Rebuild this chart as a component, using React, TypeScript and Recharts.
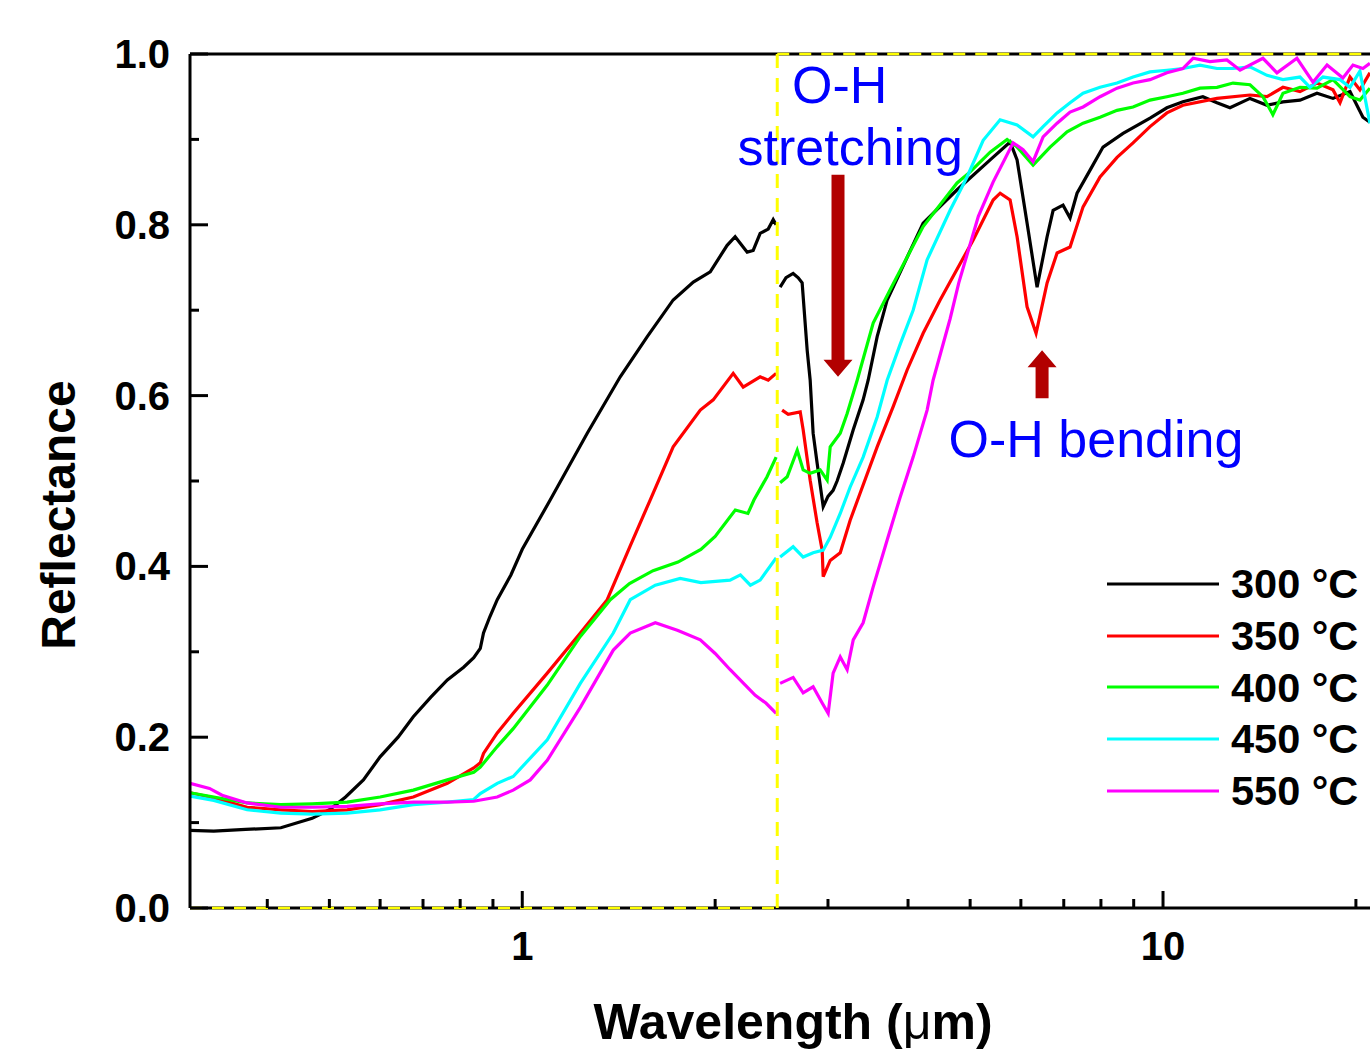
import React from "react";
import { LineChart, Line, XAxis, YAxis, ReferenceLine, ReferenceDot } from "recharts";

const FONT = '"Liberation Sans", Arial, Helvetica, sans-serif';

// wavelength (um), reflectance -- UV-Vis-NIR part (< 2.5 um)
const uv300 = [
  [0.303, 0.091], [0.33, 0.09], [0.37, 0.092], [0.42, 0.094], [0.47, 0.105], [0.5, 0.115],
  [0.53, 0.13], [0.565, 0.15], [0.6, 0.177], [0.64, 0.2], [0.676, 0.224], [0.72, 0.247],
  [0.764, 0.267], [0.81, 0.282], [0.84, 0.293], [0.86, 0.304], [0.87, 0.322], [0.89, 0.341],
  [0.914, 0.361], [0.96, 0.39], [1.0, 0.42], [1.106, 0.478], [1.263, 0.556], [1.422, 0.622],
  [1.567, 0.669], [1.72, 0.712], [1.849, 0.733], [1.965, 0.745], [2.088, 0.776], [2.149, 0.786],
  [2.244, 0.768], [2.293, 0.77], [2.351, 0.79], [2.42, 0.795], [2.464, 0.806], [2.49, 0.8],
];
const uv350 = [
  [0.303, 0.135], [0.33, 0.129], [0.372, 0.118], [0.42, 0.115], [0.47, 0.113], [0.533, 0.115],
  [0.6, 0.121], [0.676, 0.13], [0.764, 0.146], [0.84, 0.164], [0.86, 0.17], [0.87, 0.181],
  [0.914, 0.205], [0.968, 0.228], [1.094, 0.275], [1.232, 0.322], [1.357, 0.361], [1.474, 0.424],
  [1.584, 0.478], [1.72, 0.54], [1.896, 0.583], [1.986, 0.595], [2.134, 0.626], [2.212, 0.61],
  [2.351, 0.622], [2.42, 0.618], [2.49, 0.626],
];
const uv400 = [
  [0.303, 0.135], [0.33, 0.13], [0.372, 0.123], [0.42, 0.121], [0.47, 0.122], [0.533, 0.124],
  [0.6, 0.13], [0.676, 0.138], [0.764, 0.15], [0.84, 0.159], [0.86, 0.165], [0.914, 0.189],
  [0.968, 0.21], [1.094, 0.261], [1.232, 0.318], [1.372, 0.361], [1.47, 0.38], [1.6, 0.395],
  [1.75, 0.405], [1.9, 0.42], [2.0, 0.435], [2.15, 0.466], [2.25, 0.462], [2.3, 0.478],
  [2.41, 0.505], [2.49, 0.528],
];
const uv450 = [
  [0.303, 0.131], [0.33, 0.126], [0.372, 0.115], [0.42, 0.111], [0.47, 0.11], [0.533, 0.111],
  [0.6, 0.115], [0.676, 0.121], [0.764, 0.124], [0.84, 0.127], [0.86, 0.134], [0.914, 0.146],
  [0.968, 0.154], [1.094, 0.197], [1.232, 0.263], [1.387, 0.322], [1.474, 0.361], [1.613, 0.378],
  [1.764, 0.386], [1.9, 0.381], [2.11, 0.384], [2.19, 0.39], [2.27, 0.378], [2.351, 0.384],
  [2.49, 0.41],
];
const uv550 = [
  [0.303, 0.146], [0.325, 0.14], [0.34, 0.132], [0.372, 0.123], [0.42, 0.118], [0.47, 0.118],
  [0.533, 0.119], [0.6, 0.122], [0.676, 0.124], [0.764, 0.124], [0.84, 0.125], [0.914, 0.13],
  [0.968, 0.138], [1.029, 0.15], [1.094, 0.173], [1.232, 0.235], [1.387, 0.302], [1.474, 0.322],
  [1.613, 0.334], [1.75, 0.325], [1.896, 0.314], [2.0, 0.298], [2.111, 0.279], [2.31, 0.249],
  [2.4, 0.24], [2.49, 0.228],
];

// FTIR part (> 2.5 um)
const ir300 = [
  [2.526, 0.727], [2.58, 0.738], [2.647, 0.743], [2.696, 0.738], [2.734, 0.732], [2.784, 0.653], [2.814, 0.618],
  [2.844, 0.556], [2.885, 0.521], [2.949, 0.47], [3.0, 0.482], [3.056, 0.489], [3.1, 0.5], [3.169, 0.521], [3.285, 0.56],
  [3.404, 0.595], [3.466, 0.618], [3.58, 0.669], [3.711, 0.712], [4.223, 0.802], [4.771, 0.841],
  [5.373, 0.876], [5.772, 0.897], [5.919, 0.876], [6.135, 0.802], [6.36, 0.727], [6.593, 0.786],
  [6.737, 0.817], [6.982, 0.823], [7.16, 0.808], [7.342, 0.837], [7.694, 0.864], [8.061, 0.891],
  [8.662, 0.907], [9.544, 0.925], [10.14, 0.937], [10.74, 0.944], [11.54, 0.95], [12.14, 0.943],
  [12.72, 0.937], [13.67, 0.948], [14.53, 0.94], [15.39, 0.944], [16.36, 0.946], [17.39, 0.954],
  [18.42, 0.948], [19.58, 0.956], [20.51, 0.926], [21.03, 0.92],
];
const ir350 = [
  [2.544, 0.583], [2.6, 0.578], [2.715, 0.581], [2.744, 0.56], [2.814, 0.501], [2.885, 0.451],
  [2.938, 0.419], [2.949, 0.388], [3.024, 0.407], [3.135, 0.416], [3.249, 0.454], [3.368, 0.486],
  [3.58, 0.54], [3.792, 0.587], [3.987, 0.63], [4.223, 0.673], [4.489, 0.712], [5.053, 0.782],
  [5.431, 0.829], [5.569, 0.837], [5.772, 0.829], [5.919, 0.786], [6.135, 0.704], [6.337, 0.673],
  [6.593, 0.732], [6.834, 0.767], [7.16, 0.774], [7.503, 0.821], [7.975, 0.856], [8.477, 0.879],
  [8.979, 0.896], [9.544, 0.915], [10.14, 0.931], [10.74, 0.94], [12.14, 0.948], [13.67, 0.952],
  [14.53, 0.95], [15.39, 0.961], [16.36, 0.956], [17.39, 0.966], [18.42, 0.958], [18.89, 0.943],
  [19.58, 0.973], [20.29, 0.958], [21.03, 0.978],
];
const ir400 = [
  [2.526, 0.498], [2.591, 0.505], [2.686, 0.536], [2.744, 0.513], [2.814, 0.509], [2.917, 0.513],
  [2.991, 0.501], [3.024, 0.54], [3.135, 0.556], [3.214, 0.579], [3.332, 0.618], [3.529, 0.685],
  [3.751, 0.724], [4.223, 0.798], [4.771, 0.849], [5.0, 0.862], [5.373, 0.885], [5.71, 0.9],
  [5.919, 0.891], [6.269, 0.87], [6.665, 0.891], [7.083, 0.909], [7.503, 0.919], [7.975, 0.926],
  [8.477, 0.934], [8.979, 0.938], [9.544, 0.946], [10.14, 0.95], [10.74, 0.954], [11.42, 0.96],
  [12.14, 0.961], [12.86, 0.966], [13.67, 0.964], [14.32, 0.95], [14.84, 0.929], [15.39, 0.954],
  [16.36, 0.961], [17.39, 0.96], [18.42, 0.97], [19.58, 0.95], [20.29, 0.946], [21.03, 0.96],
];
const ir450 = [
  [2.526, 0.411], [2.647, 0.423], [2.744, 0.411], [2.844, 0.416], [2.949, 0.419], [3.024, 0.434],
  [3.135, 0.462], [3.249, 0.493], [3.404, 0.528], [3.58, 0.575], [3.711, 0.618], [3.888, 0.66],
  [4.074, 0.7], [4.284, 0.759], [4.653, 0.817], [4.945, 0.856], [5.24, 0.899], [5.569, 0.923],
  [5.919, 0.917], [6.269, 0.903], [6.499, 0.915], [6.834, 0.931], [7.16, 0.943], [7.503, 0.954],
  [7.975, 0.961], [8.477, 0.966], [8.979, 0.973], [9.544, 0.979], [10.14, 0.981], [10.74, 0.983],
  [11.42, 0.987], [12.14, 0.983], [12.86, 0.983], [13.67, 0.985], [14.53, 0.975], [15.39, 0.97],
  [16.36, 0.973], [16.96, 0.961], [17.77, 0.973], [18.89, 0.97], [19.58, 0.961], [20.29, 0.98],
  [21.03, 0.919],
];
const ir550 = [
  [2.526, 0.263], [2.647, 0.27], [2.744, 0.252], [2.844, 0.259], [2.938, 0.24], [3.002, 0.228],
  [3.056, 0.275], [3.135, 0.294], [3.214, 0.279], [3.285, 0.314], [3.404, 0.334], [3.529, 0.376],
  [3.711, 0.431], [3.888, 0.481], [4.074, 0.528], [4.284, 0.583], [4.377, 0.618], [4.653, 0.69],
  [4.8, 0.732], [5.15, 0.81], [5.43, 0.85], [5.835, 0.896], [6.048, 0.888], [6.269, 0.874],
  [6.499, 0.903], [6.834, 0.919], [7.16, 0.932], [7.503, 0.938], [7.975, 0.95], [8.477, 0.96],
  [8.979, 0.966], [9.544, 0.97], [10.14, 0.978], [10.74, 0.983], [11.14, 0.995], [11.84, 0.991],
  [12.58, 0.993], [13.19, 0.981], [14.32, 0.995], [15.06, 0.978], [16.18, 0.995], [17.14, 0.967],
  [18.03, 0.987], [19.09, 0.972], [19.79, 0.987], [20.51, 0.983], [21.03, 0.989],
];

const seriesNames = ["300 °C", "350 °C", "400 °C", "450 °C", "550 °C"];
const seriesColors = ["#000000", "#ff0000", "#00ff00", "#00ffff", "#ff00ff"];
const uvSets = [uv300, uv350, uv400, uv450, uv550];
const irSets = [ir300, ir350, ir400, ir450, ir550];

const xTicks = [0.4, 0.5, 0.6, 0.7, 0.8, 0.9, 1, 2, 3, 4, 5, 6, 7, 8, 9, 10, 20];
const xLabels = [1, 10];
const yTicks = [0, 0.1, 0.2, 0.3, 0.4, 0.5, 0.6, 0.7, 0.8, 0.9, 1.0];

const toPts = (arr: number[][]) => arr.map(([w, r]) => ({ w, r }));

function XTick(props: any) {
  const { x, y, payload } = props;
  const major = xLabels.includes(payload.value);
  return (
    <g>
      <line x1={x} x2={x} y1={y} y2={y - (major ? 17 : 9)} stroke="#000" strokeWidth={3} />
      {major && (
        <text x={x} y={y + 52} textAnchor="middle" fontSize={40} fontWeight="bold" fontFamily={FONT} fill="#000">
          {payload.value}
        </text>
      )}
    </g>
  );
}

function YTick(props: any) {
  const { x, y, payload } = props;
  const major = Math.round(payload.value * 10) % 2 === 0;
  return (
    <g>
      <line x1={x} x2={x + (major ? 18 : 9)} y1={y} y2={y} stroke="#000" strokeWidth={3} />
      {major && (
        <text x={x - 20} y={y + 14} textAnchor="end" fontSize={40} fontWeight="bold" fontFamily={FONT} fill="#000">
          {payload.value.toFixed(1)}
        </text>
      )}
    </g>
  );
}

function Arrow({ cx, cy, len, dir }: any) {
  // tip at (cx, cy); dir = 1 points down, -1 points up
  const hw = 14.5, sw = 6.5, hh = 17;
  const s = dir;
  const pts = [
    [cx - sw, cy - s * len], [cx + sw, cy - s * len], [cx + sw, cy - s * hh], [cx + hw, cy - s * hh],
    [cx, cy], [cx - hw, cy - s * hh], [cx - sw, cy - s * hh],
  ].map((p) => p.join(",")).join(" ");
  return <polygon points={pts} fill="#b20000" />;
}

function Note({ cx, cy, text }: any) {
  return (
    <text x={cx} y={cy} textAnchor="middle" fontSize={52} fontFamily={FONT} fill="#0000ff">
      {text}
    </text>
  );
}

export default function App() {
  return (
    <div style={{ position: "absolute", left: 0, top: 0, width: 1370, height: 1052, overflow: "hidden", background: "#fff", fontFamily: FONT }}>
      <LineChart width={1440} height={1052} margin={{ top: 54, right: 22, bottom: 143, left: 189 }}>
        <XAxis
          dataKey="w"
          type="number"
          scale="log"
          domain={[0.303, 25]}
          allowDataOverflow
          ticks={xTicks}
          interval={0}
          height={1}
          tickSize={0}
          tickMargin={0}
          tickLine={false}
          axisLine={false}
          tick={<XTick />}
        />
        <YAxis
          type="number"
          domain={[0, 1]}
          ticks={yTicks}
          interval={0}
          width={1}
          tickSize={0}
          tickMargin={0}
          tickLine={false}
          axisLine={{ stroke: "#000", strokeWidth: 3 }}
          tick={<YTick />}
        />
        <ReferenceLine y={1} stroke="#000" strokeWidth={3} />
        <ReferenceLine y={0} stroke="#000" strokeWidth={3} />
        {seriesNames.map((n, i) => (
          <Line key={"uv" + n} data={toPts(uvSets[i])} dataKey="r" stroke={seriesColors[i]} strokeWidth={3.2}
            dot={false} isAnimationActive={false} legendType="none" />
        ))}
        {seriesNames.map((n, i) => (
          <Line key={"ir" + n} data={toPts(irSets[i])} dataKey="r" stroke={seriesColors[i]} strokeWidth={3.2}
            dot={false} isAnimationActive={false} legendType="none" />
        ))}
        <ReferenceLine x={2.5} stroke="#ffff00" strokeWidth={3} strokeDasharray="14 10" />
        <ReferenceLine segment={[{ x: 2.5, y: 1 }, { x: 25, y: 1 }]} stroke="#ffff00" strokeWidth={2.5} strokeDasharray="12 10" />
        <ReferenceLine segment={[{ x: 0.303, y: 0 }, { x: 2.5, y: 0 }]} stroke="#ffff00" strokeWidth={2.5} strokeDasharray="12 10" />
        <ReferenceDot x={3.11} y={0.622} r={0} shape={(p: any) => <Arrow cx={p.cx} cy={p.cy} len={202} dir={1} />} />
        <ReferenceDot x={6.475} y={0.653} r={0} shape={(p: any) => <Arrow cx={p.cx} cy={p.cy} len={48} dir={-1} />} />
        <ReferenceDot x={3.13} y={0.943} r={0} shape={(p: any) => <Note cx={p.cx} cy={p.cy} text="O-H" />} />
        <ReferenceDot x={3.25} y={0.87} r={0} shape={(p: any) => <Note cx={p.cx} cy={p.cy} text="stretching" />} />
        <ReferenceDot x={7.86} y={0.528} r={0} shape={(p: any) => <Note cx={p.cx} cy={p.cy} text="O-H bending" />} />
      </LineChart>

      <div style={{ position: "absolute", left: 58, top: 515, transform: "translate(-50%, -50%) rotate(-90deg)", fontSize: 48, fontWeight: "bold", whiteSpace: "nowrap" }}>
        Reflectance
      </div>
      <div style={{ position: "absolute", left: 793, top: 1022, transform: "translate(-50%, -50%)", fontSize: 50, fontWeight: "bold", whiteSpace: "nowrap" }}>
        Wavelength (<span style={{ fontWeight: "normal" }}>μ</span>m)
      </div>

      <div style={{ position: "absolute", left: 1107, top: 558 }}>
        {seriesNames.map((n, i) => (
          <div key={n} style={{ display: "flex", alignItems: "center", height: 51.75 }}>
            <svg width={112} height={6} style={{ display: "block" }}>
              <line x1={0} x2={112} y1={3} y2={3} stroke={seriesColors[i]} strokeWidth={3} />
            </svg>
            <span style={{ marginLeft: 12, fontSize: 41.5, fontWeight: "bold", whiteSpace: "nowrap", lineHeight: 1 }}>{n}</span>
          </div>
        ))}
      </div>
    </div>
  );
}
